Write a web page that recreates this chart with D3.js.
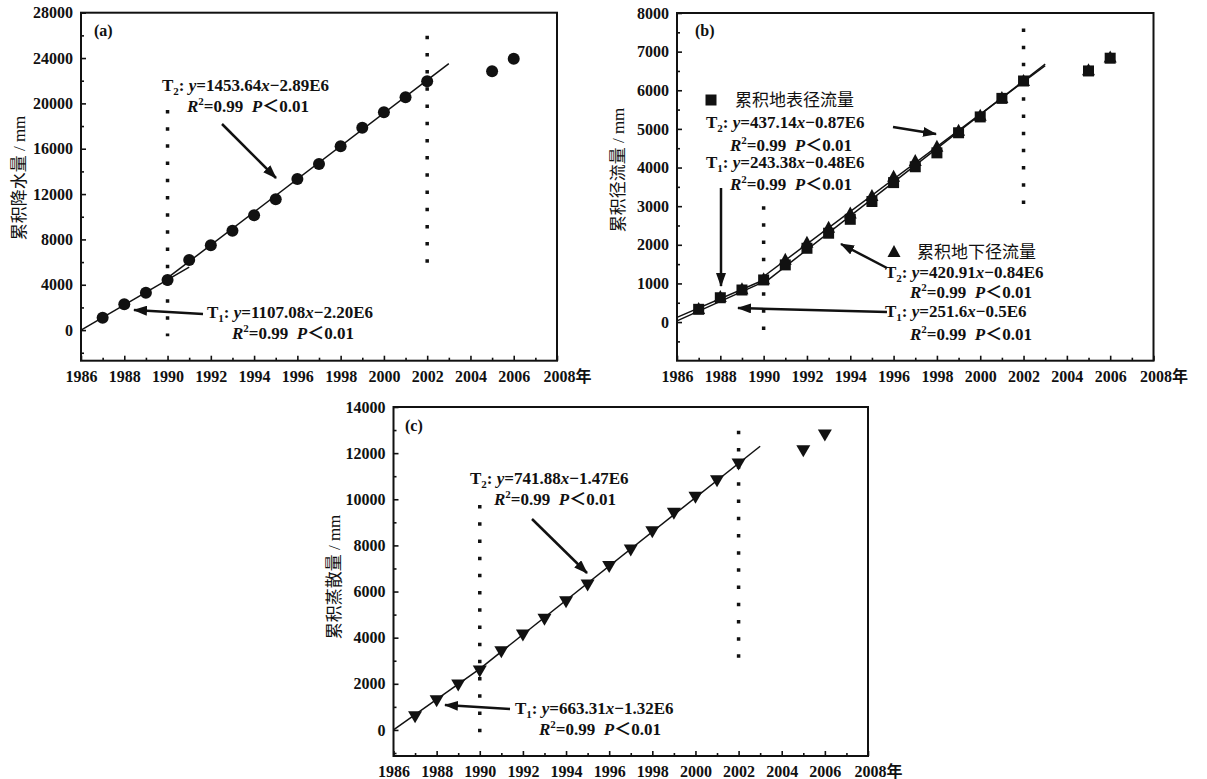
<!DOCTYPE html>
<html>
<head>
<meta charset="utf-8">
<script src="https://cdn.jsdelivr.net/npm/d3@7"></script>
<style>
body { margin: 0; background: #fff; }
text { font-family: "Liberation Serif", "Noto Sans CJK SC", serif; fill: #111; }
.tick text { font-size: 16px; font-weight: bold; }
.eq { font-weight: bold; }
</style>
</head>
<body>
<svg width="1207" height="779"></svg>
<script>
// cumulative values, mm
const years = [1987,1988,1989,1990,1991,1992,1993,1994,1995,1996,1997,1998,1999,2000,2001,2002,2005,2006];
const precipCum  = [1090,2280,3300,4420,6180,7480,8770,10130,11540,13330,14650,16210,17850,19210,20540,21950,22830,23940];
const surfaceCum = [330,630,830,1090,1480,1910,2300,2660,3120,3610,4020,4380,4900,5310,5790,6240,6500,6830];
const groundCum  = [340,650,850,1110,1610,2050,2440,2810,3260,3760,4170,4540,4950,5340,5800,6240,6520,6850];
const evapCum    = [570,1270,1950,2560,3390,4120,4800,5560,6280,7080,7800,8590,9390,10090,10800,11530,12100,12790];

// fitted segments: [year, value] end points
const fitPrecip  = [[[1986, 0], [1991, 5550]], [[1990, 4600], [2003, 23500]]];
const fitSurface = [[[1986, 120], [1990, 1090]], [[1990, 1000], [2003, 6680]]];
const fitGround  = [[[1986, 30], [1990, 1040]], [[1990, 1180], [2003, 6640]]];
const fitEvap    = [[[1986, 0], [1990, 2650]], [[1990, 2650], [2003, 12300]]];

// dotted break lines: year, bottom value, top value
const breaksA = [[1990, -200, 19420], [2002, 6250, 25970]];
const breaksB = [[1990, -120, 3000], [2002, 3160, 7600]];
const breaksC = [[1990, 70, 9750], [2002, 3290, 12970]];

const xTicks = d3.range(1986, 2009, 2);
const xMinor = d3.range(1987, 2008, 2);
const yTicksA = d3.range(0, 28001, 4000), yMinorA = d3.range(-2000, 26001, 4000);
const yTicksB = d3.range(0, 8001, 1000),  yMinorB = d3.range(-500, 7501, 1000);
const yTicksC = d3.range(0, 14001, 2000), yMinorC = d3.range(-1000, 13001, 2000);

const svg = d3.select("svg");
svg.append("defs").append("marker")
  .attr("id", "arr").attr("markerUnits", "userSpaceOnUse")
  .attr("markerWidth", 14).attr("markerHeight", 10)
  .attr("refX", 13).attr("refY", 5).attr("orient", "auto")
  .append("path").attr("d", "M0,0 L14,5 L0,10 Z").attr("fill", "#111");

function panel(o) {
  const x = d3.scaleLinear().domain([1986, 2008]).range([o.left, o.right]);
  const y = d3.scaleLinear().domain(o.yDomain).range([o.bottom, o.top]);
  const g = svg.append("g");

  const styleAxis = a => {
    a.select(".domain").remove();
    a.selectAll(".tick line").attr("stroke", "#111").attr("stroke-width", 1.6);
    a.attr("font-family", null).attr("font-size", null);
  };
  g.append("g").attr("transform", `translate(${o.left},0)`)
    .call(d3.axisLeft(y).tickValues(o.yMinor).tickSize(-3).tickFormat("")).call(styleAxis);
  g.append("g").attr("transform", `translate(${o.left},0)`)
    .call(d3.axisLeft(y).tickValues(o.yTicks).tickSize(-5).tickPadding(8).tickFormat(d3.format("d"))).call(styleAxis);
  g.append("g").attr("transform", `translate(0,${o.bottom})`)
    .call(d3.axisBottom(x).tickValues(xMinor).tickSize(-3).tickFormat("")).call(styleAxis);
  const xa = g.append("g").attr("transform", `translate(0,${o.bottom})`)
    .call(d3.axisBottom(x).tickValues(xTicks).tickSize(-5).tickPadding(10).tickFormat(d3.format("d"))).call(styleAxis);
  xa.selectAll(".tick text").filter(d => d === 2008)
    .text("2008年").attr("text-anchor", "start").attr("x", -14);

  g.append("rect").attr("x", o.left).attr("y", o.top)
    .attr("width", o.right - o.left).attr("height", o.bottom - o.top)
    .attr("fill", "none").attr("stroke", "#111").attr("stroke-width", 2);

  g.append("text")
    .attr("transform", `translate(${o.titleX},${o.titleY}) rotate(-90)`)
    .attr("text-anchor", "middle").attr("dy", "0.35em")
    .style("font-size", "17px").text(o.title);

  g.selectAll("line.brk").data(o.breaks).enter().append("line")
    .attr("x1", d => x(d[0])).attr("x2", d => x(d[0]))
    .attr("y1", d => y(d[2])).attr("y2", d => y(d[1]) + 4)
    .attr("stroke", "#111").attr("stroke-width", 3.5)
    .attr("stroke-dasharray", "3.5,13.7");

  const line = d3.line().x(d => x(d[0])).y(d => y(d[1]));
  o.fits.forEach(f => f.forEach(seg => {
    g.append("path").attr("d", line(seg)).attr("fill", "none")
      .attr("stroke", "#111").attr("stroke-width", 1.5);
  }));

  o.series.forEach(s => {
    g.selectAll(null).data(years.map((yr, i) => [yr, s.values[i]])).enter()
      .append("path")
      .attr("transform", d => `translate(${x(d[0])},${y(d[1])})`)
      .attr("d", s.shape).attr("fill", "#111");
  });
  return g;
}

const circle = "M-6,0 A6,6 0 1,0 6,0 A6,6 0 1,0 -6,0 Z";
const square = "M-5.5,-5.5 H5.5 V5.5 H-5.5 Z";
const triUp = "M-6.5,5 L6.5,5 L0,-7 Z";
const triDown = "M-7,-5.5 L7,-5.5 L0,6.5 Z";

function eq(g, x, y, parts) {
  const t = g.append("text").attr("class", "eq").attr("x", x).attr("y", y).style("font-size", "17px");
  let shift = 0;
  parts.forEach(p => {
    const [str, kind] = Array.isArray(p) ? p : [p, ""];
    const ts = t.append("tspan").text(str);
    let want = 0;
    if (kind === "sub") { want = 4; ts.style("font-size", "11px"); }
    if (kind === "sup") { want = -7; ts.style("font-size", "11px"); }
    if (kind === "i") ts.style("font-style", "italic");
    if (want !== shift) { ts.attr("dy", want - shift); shift = want; }
  });
}
const tLine = (n, a, b) => ["T", [n, "sub"], ": ", ["y", "i"], "=" + a, ["x", "i"], "\u2212" + b];
const rLine = [["R", "i"], ["2", "sup"], "=0.99\u00a0\u00a0", ["P", "i"], "\uff1c0.01"];

function arrow(g, x1, y1, x2, y2) {
  g.append("line").attr("x1", x1).attr("y1", y1).attr("x2", x2).attr("y2", y2)
    .attr("stroke", "#111").attr("stroke-width", 2.5).attr("marker-end", "url(#arr)");
}
function label(g, x, y, s, size, cls) {
  g.append("text").attr("class", cls || null).attr("x", x).attr("y", y)
    .style("font-size", (size || 17) + "px").text(s);
}

// (a) precipitation
const ga = panel({
  left: 81, right: 557, top: 12.7, bottom: 360.7, yDomain: [-2700, 28000],
  yTicks: yTicksA, yMinor: yMinorA, title: "累积降水量 / mm", titleX: 19, titleY: 178,
  breaks: breaksA, fits: [fitPrecip], series: [{ values: precipCum, shape: circle }]
});
label(ga, 94, 36, "(a)", 16, "eq");
eq(ga, 162, 91, tLine("2", "1453.64", "2.89E6"));
eq(ga, 187, 112, rLine);
arrow(ga, 222, 124, 276, 178);
eq(ga, 207, 318, tLine("1", "1107.08", "2.20E6"));
eq(ga, 232, 339, rLine);
arrow(ga, 203, 314, 134, 310);

// (b) runoff
const gb = panel({
  left: 677, right: 1153.5, top: 13, bottom: 360.7, yDomain: [-1000, 8000],
  yTicks: yTicksB, yMinor: yMinorB, title: "累积径流量 / mm", titleX: 618, titleY: 170,
  breaks: breaksB, fits: [fitSurface, fitGround],
  series: [{ values: groundCum, shape: triUp }, { values: surfaceCum, shape: square }]
});
label(gb, 695, 36, "(b)", 16, "eq");
gb.append("path").attr("transform", "translate(711,100)").attr("d", square).attr("fill", "#111");
label(gb, 735, 106, "累积地表径流量");
eq(gb, 706, 128, tLine("2", "437.14", "0.87E6"));
eq(gb, 730, 151, rLine);
eq(gb, 706, 168, tLine("1", "243.38", "0.48E6"));
eq(gb, 730, 190, rLine);
arrow(gb, 721, 188, 721, 286);
arrow(gb, 893, 127, 936, 134);
gb.append("path").attr("transform", "translate(894,252)").attr("d", triUp).attr("fill", "#111");
label(gb, 917, 258, "累积地下径流量");
eq(gb, 885, 278, tLine("2", "420.91", "0.84E6"));
eq(gb, 910, 298, rLine);
eq(gb, 885, 317, tLine("1", "251.6", "0.5E6"));
eq(gb, 910, 340, rLine);
arrow(gb, 887, 268, 841, 244);
arrow(gb, 887, 312, 738, 308);

// (c) evapotranspiration
const gc = panel({
  left: 393.5, right: 868, top: 407, bottom: 756, yDomain: [-1130, 14000],
  yTicks: yTicksC, yMinor: yMinorC, title: "累积蒸散量 / mm", titleX: 334, titleY: 577,
  breaks: breaksC, fits: [fitEvap], series: [{ values: evapCum, shape: triDown }]
});
label(gc, 405, 431, "(c)", 16, "eq");
eq(gc, 470, 484, tLine("2", "741.88", "1.47E6"));
eq(gc, 494, 505, rLine);
arrow(gc, 532, 519, 587, 573);
eq(gc, 515, 714, tLine("1", "663.31", "1.32E6"));
eq(gc, 539, 735, rLine);
arrow(gc, 510, 709, 445, 705);
</script>
</body>
</html>
